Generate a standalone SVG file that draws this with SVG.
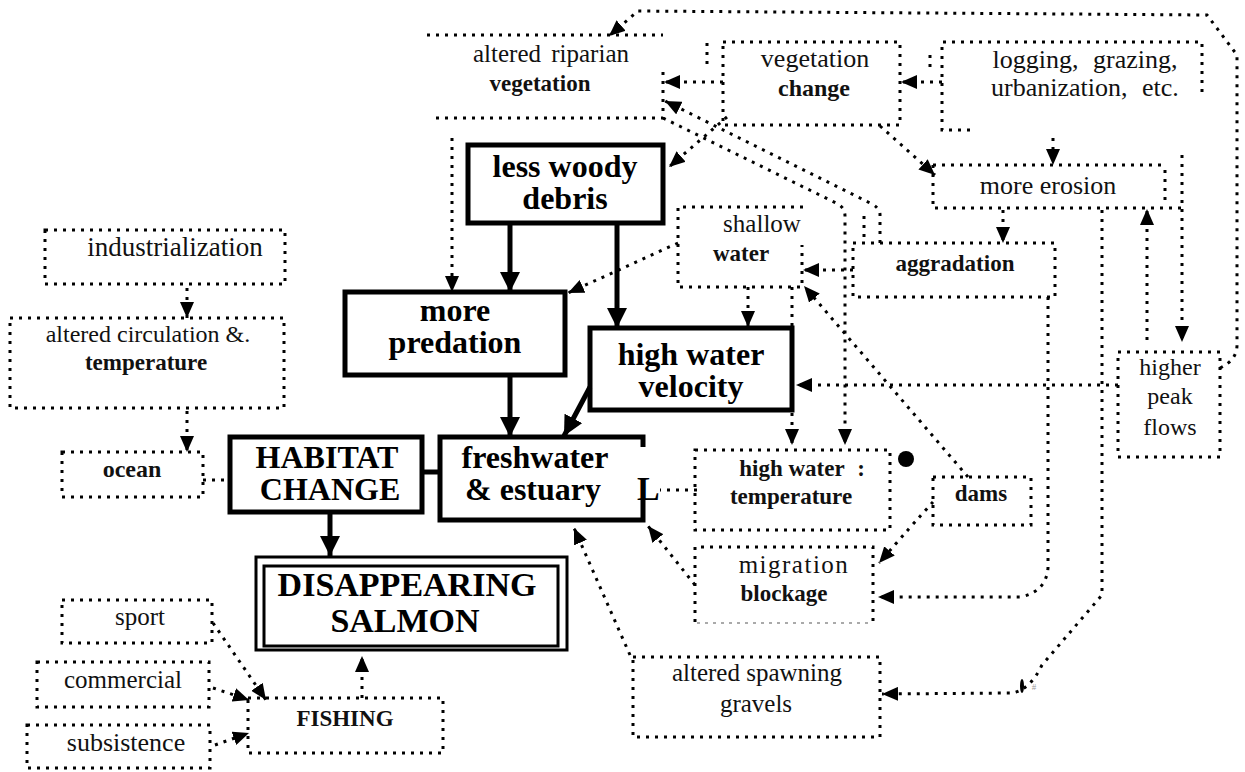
<svg xmlns="http://www.w3.org/2000/svg" width="1245" height="772" viewBox="0 0 1245 772">
<defs>
<style>
.d{fill:none;stroke:#000;stroke-width:3;stroke-dasharray:3 6}
.g{fill:none;stroke:#aaa;stroke-width:2;stroke-dasharray:3 5}
.t{fill:none;stroke:#000;stroke-width:5}
.m{fill:none;stroke:#000;stroke-width:3}
text{font-family:"Liberation Serif","Times New Roman",serif;text-anchor:middle;fill:#111}
.s{font-size:25px}
.sb{font-size:23px;font-weight:bold}
.L{font-size:32px;font-weight:bold;fill:#000}
.X{font-size:32px;font-weight:bold;fill:#000}
</style>
<marker id="a" markerUnits="userSpaceOnUse" markerWidth="18" markerHeight="14" refX="16" refY="7" orient="auto"><path d="M0,0 L16,7 L0,14 z" fill="#000"/></marker>
<marker id="A" markerUnits="userSpaceOnUse" markerWidth="22" markerHeight="20" refX="20" refY="10" orient="auto"><path d="M0,0 L20,10 L0,20 z" fill="#000"/></marker>
</defs>
<rect width="1245" height="772" fill="#fff"/>

<g id="connectors">
<path class="d" d="M1220,368 Q1237,360 1237,345 L1237,55 L1207,15 L638,11 L609,36" marker-end="url(#a)"/>
<path class="d" d="M723,82 L664,82" marker-end="url(#a)"/>
<path class="d" d="M942,82 L901,82" marker-end="url(#a)"/>
<path class="d" d="M727,117 L669,167" marker-end="url(#a)"/>
<path class="d" d="M880,126 L935,175" marker-end="url(#a)"/>
<path class="d" d="M1053,138 L1053,165" marker-end="url(#a)"/>
<path class="d" d="M1003,210 L1003,243" marker-end="url(#a)"/>
<path class="d" d="M880,243 L880,214 Q879,207 870,203 L665,101" marker-end="url(#a)"/>
<path class="d" d="M864,216 L864,242"/>
<path class="d" d="M663,118 L838,204 Q845,208 845,216 L845,445" marker-end="url(#a)"/>
<path class="d" d="M853,270 L803,270" marker-end="url(#a)"/>
<path class="d" d="M968,477 L804,286" marker-end="url(#a)"/>
<path class="d" d="M748,287 L748,327" marker-end="url(#a)"/>
<path class="d" d="M792,287 L792,445" marker-end="url(#a)"/>
<path class="d" d="M678,243 L568,293" marker-end="url(#a)"/>
<path class="d" d="M452,138 L452,292" marker-end="url(#a)"/>
<path class="d" d="M1118,385 L796,385" marker-end="url(#a)"/>
<path class="d" d="M1147,340 L1147,209" marker-end="url(#a)"/>
<path class="d" d="M1182,155 L1182,342" marker-end="url(#a)"/>
<path class="d" d="M1048,297 L1048,568 Q1046,592 1020,597 L878,597" marker-end="url(#a)"/>
<path class="d" d="M1102,210 L1102,595 L1042,665 Q1030,690 1012,693 L882,694" marker-end="url(#a)"/>
<path class="d" d="M933,502 Q912,525 879,563" marker-end="url(#a)"/>
<path class="d" d="M697,490 L660,490"/>
<path class="d" d="M695,585 L648,526" marker-end="url(#a)"/>
<path class="d" d="M630,655 L574,528" marker-end="url(#a)"/>
<path class="d" d="M187,288 L187,318" marker-end="url(#a)"/>
<path class="d" d="M187,411 L187,452" marker-end="url(#a)"/>
<path class="d" d="M203,480 L230,480"/>
<path class="d" d="M213,623 L222,636 L266,700" marker-end="url(#a)"/>
<path class="d" d="M213,688 L249,700" marker-end="url(#a)"/>
<path class="d" d="M215,745 L249,733" marker-end="url(#a)"/>
<path class="d" d="M362,698 L362,656" marker-end="url(#a)"/>
<path class="t" d="M510,223 L510,292" stroke-width="4" marker-end="url(#A)"/>
<path class="t" d="M617,223 L617,328" stroke-width="4" marker-end="url(#A)"/>
<path class="t" d="M510,375 L510,437" stroke-width="4" marker-end="url(#A)"/>
<path class="t" d="M590,387 L564,436" stroke-width="4" marker-end="url(#A)"/>
<path class="t" d="M330,512 L330,556" stroke-width="4" marker-end="url(#A)"/>
<path class="t" d="M422,472 L440,472"/>
<circle cx="906" cy="459" r="8" fill="#000"/>
<ellipse cx="1022" cy="686" rx="2" ry="7" fill="#000"/>
</g>

<g id="altered-riparian">
<path class="d" d="M427,35 L663,35 M663,72 L663,118 L430,118"/>
<text class="s" x="551" y="62" style="word-spacing:4px">altered riparian</text>
<text class="sb" x="540" y="91">vegetation</text>
</g>
<g id="vegetation-change">
<rect class="d" x="723" y="42" width="177" height="83"/>
<path class="d" d="M707,43 L707,65"/>
<text class="s" x="815" y="67" style="font-size:26px">vegetation</text>
<text class="sb" x="814" y="96" style="font-size:24px">change</text>
</g>
<g id="logging">
<path class="d" d="M970,130 L942,130 L942,42 L1202,42 L1202,97"/>
<path class="d" d="M930,55 L930,72"/>
<text class="s" x="1085" y="68" style="font-size:26px;word-spacing:8px">logging, grazing,</text>
<text class="s" x="1085" y="96" style="font-size:26px;word-spacing:8px">urbanization, etc.</text>
</g>
<g id="more-erosion">
<path class="d" d="M933,165 L1167,165 M1165,170 L1165,205 M933,165 L933,208 L1182,208"/>
<text class="s" x="1048" y="194" style="font-size:26px">more erosion</text>
</g>
<g id="aggradation">
<rect class="d" x="853" y="243" width="202" height="54"/>
<text class="sb" x="955" y="271">aggradation</text>
</g>
<g id="shallow-water">
<path class="d" d="M803,207 L678,207 L678,287 L802,287 L802,245"/>
<text class="s" x="762" y="232">shallow</text>
<text class="sb" x="741" y="261">water</text>
</g>
<g id="less-woody-debris">
<rect class="t" x="468" y="145" width="195" height="78"/>
<text class="L" x="565" y="177">less woody</text>
<text class="L" x="565" y="209">debris</text>
</g>
<g id="more-predation">
<rect class="t" x="345" y="292" width="220" height="83"/>
<text class="L" x="455" y="321">more</text>
<text class="L" x="455" y="353">predation</text>
</g>
<g id="high-water-velocity">
<rect class="t" x="590" y="328" width="202" height="82"/>
<text class="L" x="691" y="365">high water</text>
<text class="L" x="691" y="397">velocity</text>
</g>
<g id="freshwater-estuary">
<path class="t" d="M643,447 L643,437 L440,437 L440,520 L643,520 L643,500"/>
<text class="L" x="535" y="468">freshwater</text>
<text class="L" x="533" y="500">&amp;  estuary</text>
<text class="L" x="637" y="500" style="text-anchor:start;font-size:34px">L</text>
</g>
<g id="habitat-change">
<rect class="t" x="230" y="437" width="192" height="75"/>
<text class="X" x="327" y="468">HABITAT</text>
<text class="X" x="330" y="500">CHANGE</text>
</g>
<g id="disappearing-salmon">
<rect class="m" x="256" y="557" width="311" height="93"/>
<rect class="m" x="264" y="566" width="294" height="80"/>
<text class="X" x="407" y="596" style="font-size:34px">DISAPPEARING</text>
<text class="X" x="405" y="632" style="font-size:34px">SALMON</text>
</g>
<g id="industrialization">
<rect class="d" x="45" y="230" width="240" height="54"/>
<text class="s" x="175" y="256" style="font-size:27px">industrialization</text>
</g>
<g id="altered-circulation">
<rect class="d" x="10" y="318" width="274" height="90"/>
<text class="s" x="148" y="342" style="font-size:24px">altered circulation &amp;.</text>
<text class="sb" x="146" y="370">temperature</text>
</g>
<g id="ocean">
<rect class="d" x="62" y="452" width="141" height="45"/>
<text class="sb" x="132" y="477" style="font-size:24px">ocean</text>
</g>
<g id="sport">
<rect class="d" x="62" y="600" width="150" height="43"/>
<text class="s" x="140" y="625">sport</text>
</g>
<g id="commercial">
<rect class="d" x="37" y="662" width="172" height="45"/>
<text class="s" x="123" y="688">commercial</text>
</g>
<g id="subsistence">
<rect class="d" x="27" y="725" width="183" height="43"/>
<text class="s" x="126" y="751" style="font-size:26px">subsistence</text>
</g>
<g id="fishing">
<rect class="d" x="248" y="698" width="195" height="55"/>
<text class="sb" x="345" y="726">FISHING</text>
</g>
<g id="high-water-temperature">
<rect class="d" x="695" y="450" width="195" height="80"/>
<text class="sb" x="792" y="476">high water</text>
<text class="sb" x="861" y="476">:</text>
<text class="sb" x="791" y="504">temperature</text>
</g>
<g id="dams">
<rect class="d" x="933" y="477" width="98" height="48"/>
<text class="sb" x="981" y="501">dams</text>
</g>
<g id="migration-blockage">
<path class="d" d="M695,622 L695,547 L873,547 L873,622"/>
<path class="g" d="M697,623 L871,623"/>
<text class="s" x="794" y="573" style="letter-spacing:1.5px">migration</text>
<text class="sb" x="784" y="601">blockage</text>
</g>
<g id="altered-spawning-gravels">
<rect class="d" x="633" y="657" width="247" height="80"/>
<text class="s" x="757" y="681">altered spawning</text>
<text class="s" x="756" y="712">gravels</text>
</g>
<g id="higher-peak-flows">
<rect class="d" x="1118" y="352" width="102" height="105"/>
<text class="s" x="1170" y="375" style="font-size:24px">higher</text>
<text class="s" x="1170" y="404" style="font-size:24px">peak</text>
<text class="s" x="1170" y="435" style="font-size:24px">flows</text>
</g>
<text x="1034" y="690" style="font-size:9px;fill:#999">#</text>
</svg>
